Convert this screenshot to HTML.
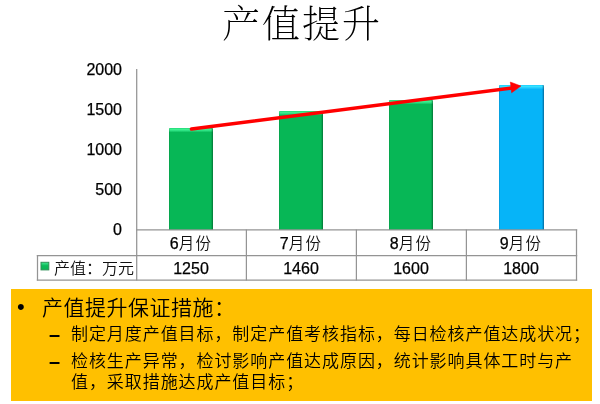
<!DOCTYPE html>
<html lang="zh-CN">
<head>
<meta charset="utf-8">
<title>产值提升</title>
<style>
html,body{margin:0;padding:0;background:#fff;}
body{width:600px;height:404px;position:relative;overflow:hidden;font-family:"Liberation Sans","Noto Sans CJK SC",sans-serif;color:#000;}
.abs{position:absolute;}
#title{left:2px;top:-1px;width:600px;text-align:center;font-family:"Liberation Serif","Noto Serif CJK SC",serif;font-weight:200;font-size:38px;letter-spacing:2px;line-height:50px;white-space:nowrap;}
.ylab{-webkit-text-stroke:0.25px #000;width:60px;left:62px;text-align:right;font-size:16px;line-height:20px;height:20px;}
.bar{width:44px;
  background:
    linear-gradient(to right, rgba(0,70,30,.22) 0, rgba(0,70,30,0) 1.5px, rgba(0,70,30,0) 42px, rgba(0,70,30,.45) 43.5px),
    linear-gradient(to bottom, #22d878 0, #3cf08e 1.5px, #2ee283 2.5px, #07b756 4.5px, #07b756 100%);
  border-radius:1px 1px 0 0;}
.bar.blue{width:45px;
  background:
    linear-gradient(to right, rgba(0,50,90,.22) 0, rgba(0,50,90,0) 1.5px, rgba(0,50,90,0) 43px, rgba(0,50,90,.45) 44.5px),
    linear-gradient(to bottom, #1cccff 0, #36e2ff 1.5px, #28d0ff 2.5px, #06b4f8 4.5px, #06b4f8 100%);}
.cell{-webkit-text-stroke:0.25px #000;font-size:16px;line-height:24px;text-align:center;height:24px;white-space:nowrap;}
.cell .c{font-size:15.5px;letter-spacing:1.2px;-webkit-text-stroke:0;color:#111;font-weight:350;}
#box{left:11px;top:289px;width:581px;height:112px;background:#ffc000;}
.l1{font-weight:350;font-size:21px;line-height:24px;white-space:nowrap;letter-spacing:0.5px;}
.l2{font-weight:350;font-size:17px;line-height:22px;white-space:nowrap;letter-spacing:0.93px;}
.dash{font-size:20px;line-height:22px;font-weight:bold;}
</style>
</head>
<body>
<div id="title" class="abs">产值提升</div>

<div class="abs ylab" style="top:60px">2000</div>
<div class="abs ylab" style="top:100px">1500</div>
<div class="abs ylab" style="top:140px">1000</div>
<div class="abs ylab" style="top:180px">500</div>
<div class="abs ylab" style="top:220px">0</div>

<div class="abs bar" style="left:169px;top:128px;height:102px"></div>
<div class="abs bar" style="left:279px;top:111px;height:119px"></div>
<div class="abs bar" style="left:389px;top:100px;height:130px"></div>
<div class="abs bar blue" style="left:499px;top:85px;height:145px"></div>

<svg class="abs" style="left:0;top:0" width="600" height="404" viewBox="0 0 600 404">
  <g stroke="#949494" stroke-width="1.25" fill="none">
    <line x1="136.7" y1="69" x2="136.7" y2="280.5"/>
    <line x1="136" y1="229.8" x2="577.2" y2="229.8"/>
    <line x1="36.8" y1="255.7" x2="577.2" y2="255.7"/>
    <line x1="36.8" y1="280" x2="577.2" y2="280"/>
    <line x1="37.5" y1="255" x2="37.5" y2="280.5"/>
    <line x1="246.4" y1="229.5" x2="246.4" y2="280.5"/>
    <line x1="356.4" y1="229.5" x2="356.4" y2="280.5"/>
    <line x1="466.4" y1="229.5" x2="466.4" y2="280.5"/>
    <line x1="576.5" y1="229.5" x2="576.5" y2="280.5"/>
  </g>

  <line x1="191.5" y1="129" x2="512" y2="88" stroke="#f00" stroke-width="3.6" stroke-linecap="round"/>
  <polygon points="521,86 510.3,82 511.6,92.8" fill="#f00" stroke="#f00" stroke-width="0.5" stroke-linejoin="round"/>
  <defs><linearGradient id="sqg" x1="0" y1="0" x2="0" y2="1"><stop offset="0" stop-color="#46ea94"/><stop offset="0.45" stop-color="#0bbb59"/><stop offset="1" stop-color="#0bb455"/></linearGradient></defs>
  <rect x="41" y="262.3" width="7.8" height="7.6" fill="url(#sqg)" stroke="#2f8f55" stroke-width="1"/>
</svg>

<div class="abs cell" style="left:136px;top:232px;width:110px">6<span class="c">月份</span></div>
<div class="abs cell" style="left:246px;top:232px;width:110px">7<span class="c">月份</span></div>
<div class="abs cell" style="left:356px;top:232px;width:110px">8<span class="c">月份</span></div>
<div class="abs cell" style="left:466px;top:232px;width:110px">9<span class="c">月份</span></div>
<div class="abs cell" style="left:136px;top:257px;width:110px">1250</div>
<div class="abs cell" style="left:246px;top:257px;width:110px">1460</div>
<div class="abs cell" style="left:356px;top:257px;width:110px">1600</div>
<div class="abs cell" style="left:466px;top:257px;width:110px">1800</div>

<div class="abs cell" style="left:54px;top:257px;text-align:left"><span class="c" style="font-size:16px;letter-spacing:0">产值：万元</span></div>

<div id="box" class="abs"></div>
<div class="abs l1" style="left:17px;top:295px;font-size:22px;font-weight:400">•</div>
<div class="abs l1" style="left:42px;top:296px">产值提升保证措施：</div>
<div class="abs l2 dash" style="left:49px;top:323px">–</div>
<div class="abs l2" style="left:71px;top:324px">制定月度产值目标，制定产值考核指标，每日检核产值达成状况；</div>
<div class="abs l2 dash" style="left:49px;top:350px">–</div>
<div class="abs l2" style="left:71px;top:351px">检核生产异常，检讨影响产值达成原因，统计影响具体工时与产</div>
<div class="abs l2" style="left:71px;top:372px">值，采取措施达成产值目标；</div>
</body>
</html>
